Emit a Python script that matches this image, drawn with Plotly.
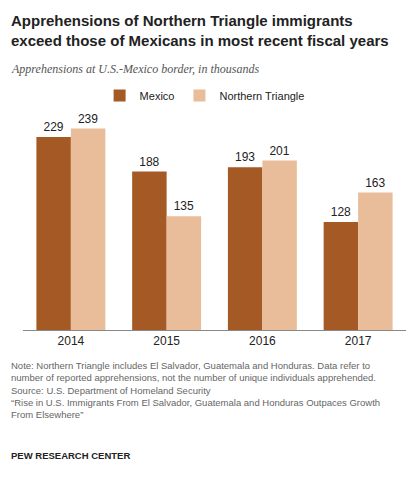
import plotly.graph_objects as go

years = ["2014", "2015", "2016", "2017"]
mexico = [229, 188, 193, 128]
northern_triangle = [239, 135, 201, 163]

fig = go.Figure()
fig.add_bar(x=years, y=mexico, name="Mexico", marker_color="#A55A26",
            text=mexico, textposition="outside", cliponaxis=False)
fig.add_bar(x=years, y=northern_triangle, name="Northern Triangle", marker_color="#E9BC9A",
            text=northern_triangle, textposition="outside", cliponaxis=False)

fig.update_traces(textfont=dict(size=12, color="#222"), marker_line_width=0)

fig.update_layout(
    width=417, height=479,
    margin=dict(l=15, r=19, t=102, b=157),
    paper_bgcolor="white", plot_bgcolor="white",
    barmode="group", bargap=0.28, bargroupgap=0,
    font=dict(family="Liberation Sans, Arial", size=12, color="#222"),
    legend=dict(orientation="h", x=0.2, y=1.0, xanchor="left", yanchor="bottom",
                font=dict(size=11), itemwidth=30, traceorder="normal"),
    showlegend=True,
)
fig.update_yaxes(range=[0, 261], visible=False)
fig.update_xaxes(showline=True, linecolor="#888", linewidth=1, ticks="", tickfont=dict(size=12))

fig.add_annotation(x=0, y=1, xref="paper", yref="paper", xanchor="left", yanchor="top",
                   xshift=-14, yshift=100, showarrow=False, align="left",
                   text="<b>Apprehensions of Northern Triangle immigrants<br>exceed those of Mexicans in most recent fiscal years</b>",
                   font=dict(size=15, color="#222"))
fig.add_annotation(x=0, y=1, xref="paper", yref="paper", xanchor="left", yanchor="top",
                   xshift=-14, yshift=50, showarrow=False, align="left",
                   text="<i>Apprehensions at U.S.-Mexico border, in thousands</i>",
                   font=dict(size=12, family="Liberation Serif, Georgia", color="#555"))
fig.add_annotation(x=0, y=0, xref="paper", yref="paper", xanchor="left", yanchor="top",
                   xshift=-14, yshift=-28, showarrow=False, align="left",
                   text="Note: Northern Triangle includes El Salvador, Guatemala and Honduras. Data refer to<br>"
                        "number of reported apprehensions, not the number of unique individuals apprehended.<br>"
                        "Source: U.S. Department of Homeland Security<br>"
                        "“Rise in U.S. Immigrants From El Salvador, Guatemala and Honduras Outpaces Growth<br>"
                        "From Elsewhere”",
                   font=dict(size=9.5, color="#666"))
fig.add_annotation(x=0, y=0, xref="paper", yref="paper", xanchor="left", yanchor="top",
                   xshift=-14, yshift=-118, showarrow=False, align="left",
                   text="<b>PEW RESEARCH CENTER</b>", font=dict(size=9.5, color="#222"))

fig.write_html("out.html")
